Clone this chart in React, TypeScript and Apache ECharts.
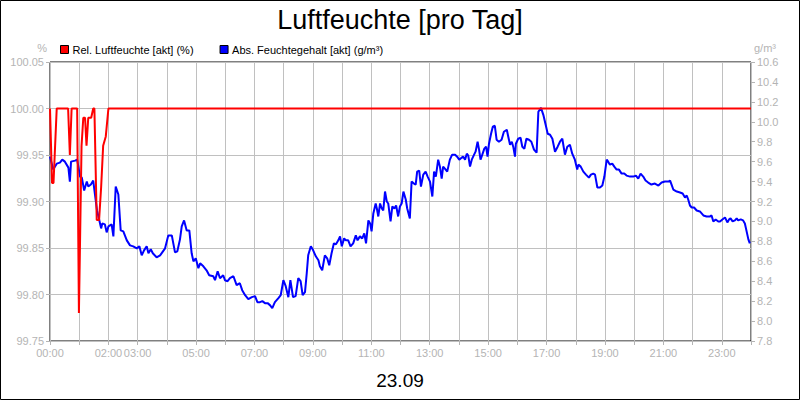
import React, { useEffect, useRef } from 'react';
import * as echarts from 'echarts';

// hours shown under the x axis (ticks/grid every hour)
const xTickLabels = ['00:00', '02:00', '03:00', '05:00', '07:00', '09:00', '11:00', '13:00', '15:00', '17:00', '19:00', '21:00', '23:00'];

// [hour, %]
const relHumidity: [number, number][] = [
  [0, 100.0], [0.07, 99.92], [0.12, 99.92], [0.23, 100.0], [0.62, 100.0], [0.68, 99.95], [0.74, 100.0],
  [0.93, 100.0], [0.99, 99.78], [1.08, 99.96], [1.14, 99.99], [1.2, 99.99], [1.25, 99.96], [1.31, 99.99],
  [1.41, 99.99], [1.48, 100.0], [1.52, 100.0], [1.6, 99.88], [1.68, 99.88], [1.75, 99.915], [1.82, 99.96],
  [1.91, 99.97], [2.0, 100.0], [24, 100.0],
];

// [hour, g/m³]
const absHumidity: [number, number][] = [
  [0, 9.65], [0.11, 9.52], [0.23, 9.58], [0.34, 9.59], [0.42, 9.62], [0.51, 9.6], [0.63, 9.54], [0.68, 9.4],
  [0.72, 9.6], [0.86, 9.61], [0.93, 9.62], [1.03, 9.45], [1.09, 9.44], [1.17, 9.31], [1.26, 9.4], [1.31, 9.35],
  [1.4, 9.37], [1.48, 9.41], [1.54, 9.27], [1.61, 9.11], [1.69, 9.01], [1.75, 8.93], [1.79, 8.98], [1.88, 8.97],
  [1.94, 8.89], [2.0, 8.95], [2.11, 8.97], [2.17, 8.85], [2.25, 9.35], [2.34, 9.27], [2.42, 8.91], [2.51, 8.9],
  [2.63, 8.81], [2.74, 8.76], [2.85, 8.75], [2.97, 8.73], [3.06, 8.75], [3.14, 8.66], [3.22, 8.71], [3.31, 8.75],
  [3.37, 8.68], [3.45, 8.72], [3.52, 8.68], [3.65, 8.64], [3.77, 8.66], [3.94, 8.73], [4.05, 8.86], [4.17, 8.86],
  [4.28, 8.69], [4.36, 8.7], [4.45, 8.82], [4.51, 8.95], [4.59, 9.01], [4.68, 8.91], [4.77, 8.91], [4.85, 8.68],
  [4.91, 8.6], [4.99, 8.63], [5.08, 8.53], [5.14, 8.58], [5.25, 8.55], [5.36, 8.51], [5.45, 8.46], [5.59, 8.45],
  [5.65, 8.41], [5.74, 8.5], [5.82, 8.43], [5.93, 8.46], [5.99, 8.41], [6.08, 8.4], [6.16, 8.43], [6.28, 8.45],
  [6.39, 8.36], [6.5, 8.38], [6.58, 8.31], [6.68, 8.26], [6.79, 8.22], [6.91, 8.24], [7.02, 8.25], [7.1, 8.19],
  [7.19, 8.19], [7.27, 8.2], [7.36, 8.18], [7.45, 8.18], [7.53, 8.16], [7.61, 8.13], [7.7, 8.19], [7.82, 8.23],
  [7.9, 8.26], [7.99, 8.41], [8.07, 8.35], [8.16, 8.24], [8.23, 8.41], [8.32, 8.24], [8.41, 8.25], [8.5, 8.43],
  [8.58, 8.4], [8.65, 8.26], [8.73, 8.29], [8.79, 8.48], [8.84, 8.66], [8.93, 8.75], [9.01, 8.71], [9.1, 8.65],
  [9.19, 8.61], [9.24, 8.55], [9.32, 8.51], [9.41, 8.66], [9.49, 8.63], [9.56, 8.56], [9.64, 8.68], [9.72, 8.78],
  [9.79, 8.77], [9.87, 8.81], [9.93, 8.85], [9.99, 8.75], [10.07, 8.83], [10.13, 8.81], [10.21, 8.81], [10.29, 8.75],
  [10.38, 8.78], [10.47, 8.86], [10.53, 8.81], [10.61, 8.85], [10.69, 8.83], [10.76, 8.88], [10.82, 8.78], [10.9, 9.01],
  [10.96, 8.98], [11.01, 8.9], [11.07, 9.08], [11.15, 9.18], [11.19, 9.13], [11.24, 9.05], [11.3, 9.18], [11.36, 9.13],
  [11.41, 9.11], [11.47, 9.3], [11.53, 9.2], [11.58, 9.18], [11.66, 9.0], [11.72, 9.15], [11.79, 9.13], [11.85, 9.16],
  [11.92, 9.05], [11.98, 9.15], [12.04, 9.18], [12.1, 9.3], [12.18, 9.22], [12.23, 9.13], [12.32, 9.03], [12.38, 9.4],
  [12.46, 9.38], [12.52, 9.37], [12.57, 9.5], [12.64, 9.51], [12.7, 9.35], [12.78, 9.47], [12.86, 9.5], [12.93, 9.45],
  [13.01, 9.4], [13.09, 9.25], [13.15, 9.5], [13.21, 9.45], [13.29, 9.62], [13.35, 9.55], [13.41, 9.43], [13.46, 9.55],
  [13.52, 9.53], [13.6, 9.5], [13.69, 9.62], [13.77, 9.67], [13.87, 9.67], [13.94, 9.65], [14.01, 9.62], [14.09, 9.64],
  [14.15, 9.65], [14.21, 9.62], [14.27, 9.68], [14.32, 9.66], [14.38, 9.55], [14.44, 9.62], [14.52, 9.67], [14.57, 9.7],
  [14.64, 9.8], [14.69, 9.72], [14.74, 9.62], [14.8, 9.67], [14.87, 9.73], [14.93, 9.75], [14.98, 9.65], [15.03, 9.78],
  [15.1, 9.88], [15.16, 9.95], [15.23, 9.96], [15.29, 9.82], [15.37, 9.8], [15.46, 9.82], [15.54, 9.9], [15.64, 9.92],
  [15.69, 9.85], [15.75, 9.77], [15.81, 9.8], [15.86, 9.75], [15.92, 9.65], [15.95, 9.78], [16.03, 9.83], [16.11, 9.84],
  [16.17, 9.75], [16.24, 9.73], [16.31, 9.83], [16.4, 9.82], [16.48, 9.8], [16.57, 9.72], [16.66, 9.69], [16.72, 10.1],
  [16.81, 10.14], [16.89, 10.07], [16.97, 9.97], [17.04, 9.88], [17.12, 9.87], [17.2, 9.83], [17.29, 9.7], [17.38, 9.75],
  [17.46, 9.8], [17.54, 9.83], [17.63, 9.67], [17.71, 9.75], [17.8, 9.77], [17.88, 9.68], [17.97, 9.62], [18.05, 9.52],
  [18.09, 9.57], [18.17, 9.55], [18.26, 9.5], [18.35, 9.47], [18.45, 9.44], [18.52, 9.47], [18.6, 9.48], [18.66, 9.47],
  [18.74, 9.34], [18.83, 9.34], [18.91, 9.36], [18.98, 9.45], [19.06, 9.62], [19.11, 9.6], [19.17, 9.57], [19.25, 9.58],
  [19.32, 9.55], [19.4, 9.52], [19.48, 9.52], [19.57, 9.48], [19.66, 9.48], [19.74, 9.46], [19.86, 9.45], [19.97, 9.45],
  [20.06, 9.46], [20.14, 9.43], [20.22, 9.48], [20.31, 9.45], [20.39, 9.41], [20.48, 9.39], [20.59, 9.37], [20.71, 9.38],
  [20.83, 9.36], [20.94, 9.39], [21.05, 9.4], [21.17, 9.4], [21.23, 9.41], [21.28, 9.37], [21.34, 9.32], [21.46, 9.3],
  [21.57, 9.29], [21.66, 9.28], [21.74, 9.24], [21.8, 9.26], [21.85, 9.22], [21.91, 9.16], [21.97, 9.14], [22.05, 9.14],
  [22.14, 9.11], [22.25, 9.1], [22.37, 9.06], [22.48, 9.05], [22.6, 9.05], [22.65, 9.06], [22.71, 9.0], [22.79, 9.02],
  [22.88, 9.0], [22.94, 9.0], [23.02, 9.02], [23.11, 9.04], [23.19, 8.99], [23.25, 9.02], [23.3, 9.03], [23.37, 9.0],
  [23.45, 9.01], [23.51, 9.03], [23.56, 9.01], [23.65, 9.02], [23.73, 9.01], [23.79, 8.98], [23.85, 8.9], [23.91, 8.82],
  [23.96, 8.78],
];

const labelFont = '"Liberation Sans Narrow", "Liberation Sans", sans-serif';
const labelGrey = '#b4b4b4';

export default function App() {
  const chartRef = useRef<HTMLDivElement>(null);

  useEffect(() => {
    if (!chartRef.current) return;
    document.body.style.margin = '0';
    const chart = echarts.init(chartRef.current, undefined, { renderer: 'svg' });

    const option: echarts.EChartsOption = {
      animation: false,
      backgroundColor: '#fff',
      title: {
        text: 'Luftfeuchte [pro Tag]',
        left: 'center',
        top: 1,
        textStyle: { fontFamily: 'Liberation Sans', fontSize: 27, fontWeight: 'normal', color: '#000' },
      },
      legend: {
        left: 55,
        top: 39,
        icon: 'rect',
        itemWidth: 8,
        itemHeight: 8,
        itemGap: 26,
        textStyle: { fontFamily: 'Liberation Sans', fontSize: 11, color: '#000', padding: [0, 0, 0, -1] },
        itemStyle: { borderColor: '#000', borderWidth: 1 },
      },
      grid: {
        left: 50,
        right: 49,
        top: 62,
        bottom: 59,
        show: true,
        borderColor: '#000',
        borderWidth: 1,
      },
      xAxis: {
        type: 'value',
        min: 0,
        max: 24,
        interval: 1,
        axisLine: { show: false },
        axisTick: { show: true, length: 4, lineStyle: { color: labelGrey } },
        splitLine: { show: true, lineStyle: { color: '#c0c0c0', width: 1 } },
        axisLabel: {
          margin: 6,
          color: labelGrey,
          fontFamily: labelFont,
          fontSize: 11,
          showMinLabel: true,
          showMaxLabel: true,
          hideOverlap: false,
          formatter: (v: number) => {
            const s = String(Math.round(v)).padStart(2, '0') + ':00';
            return xTickLabels.includes(s) ? s : '';
          },
        },
      },
      yAxis: [
        {
          type: 'value',
          min: 99.75,
          max: 100.05,
          interval: 0.05,
          axisLine: { show: false },
          axisTick: { show: true, length: 4, lineStyle: { color: labelGrey } },
          splitLine: { show: true, lineStyle: { color: '#c0c0c0', width: 1 } },
          axisLabel: {
            margin: 6,
            color: labelGrey,
            fontFamily: labelFont,
            fontSize: 11,
            formatter: (v: number) => v.toFixed(2),
          },
        },
        {
          type: 'value',
          position: 'right',
          min: 7.8,
          max: 10.6,
          interval: 0.2,
          axisLine: { show: false },
          axisTick: { show: true, length: 4, lineStyle: { color: labelGrey } },
          splitLine: { show: false },
          axisLabel: {
            margin: 6,
            color: labelGrey,
            fontFamily: labelFont,
            fontSize: 11,
            formatter: (v: number) => v.toFixed(1),
          },
        },
      ],
      graphic: [
        {
          type: 'rect',
          shape: { x: 0.5, y: 0.5, width: 799, height: 399 },
          style: { fill: 'none', stroke: '#000', lineWidth: 1 },
          silent: true,
        },
        {
          type: 'text',
          style: { text: '%', x: 47, y: 48, fill: labelGrey, font: `11px ${labelFont}`, textAlign: 'right', textVerticalAlign: 'middle' },
        },
        {
          type: 'text',
          style: { text: 'g/m³', x: 754, y: 48, fill: labelGrey, font: `11px ${labelFont}`, textAlign: 'left', textVerticalAlign: 'middle' },
        },
        {
          type: 'text',
          style: { text: '23.09', x: 400, y: 380, fill: '#000', font: '19px "Liberation Sans"', textAlign: 'center', textVerticalAlign: 'middle' },
        },
      ],
      series: [
        {
          name: 'Rel. Luftfeuchte [akt] (%)',
          type: 'line',
          yAxisIndex: 0,
          data: relHumidity,
          showSymbol: false,
          color: '#ff0000',
          lineStyle: { color: '#ff0000', width: 2 },
          z: 3,
        },
        {
          name: 'Abs. Feuchtegehalt [akt] (g/m³)',
          type: 'line',
          yAxisIndex: 1,
          data: absHumidity,
          showSymbol: false,
          color: '#0000ff',
          lineStyle: { color: '#0000ff', width: 2 },
          z: 2,
        },
      ],
    };

    chart.setOption(option);

    return () => {
      chart.dispose();
    };
  }, []);

  return <div ref={chartRef} style={{ width: 800, height: 400 }} />;
}
